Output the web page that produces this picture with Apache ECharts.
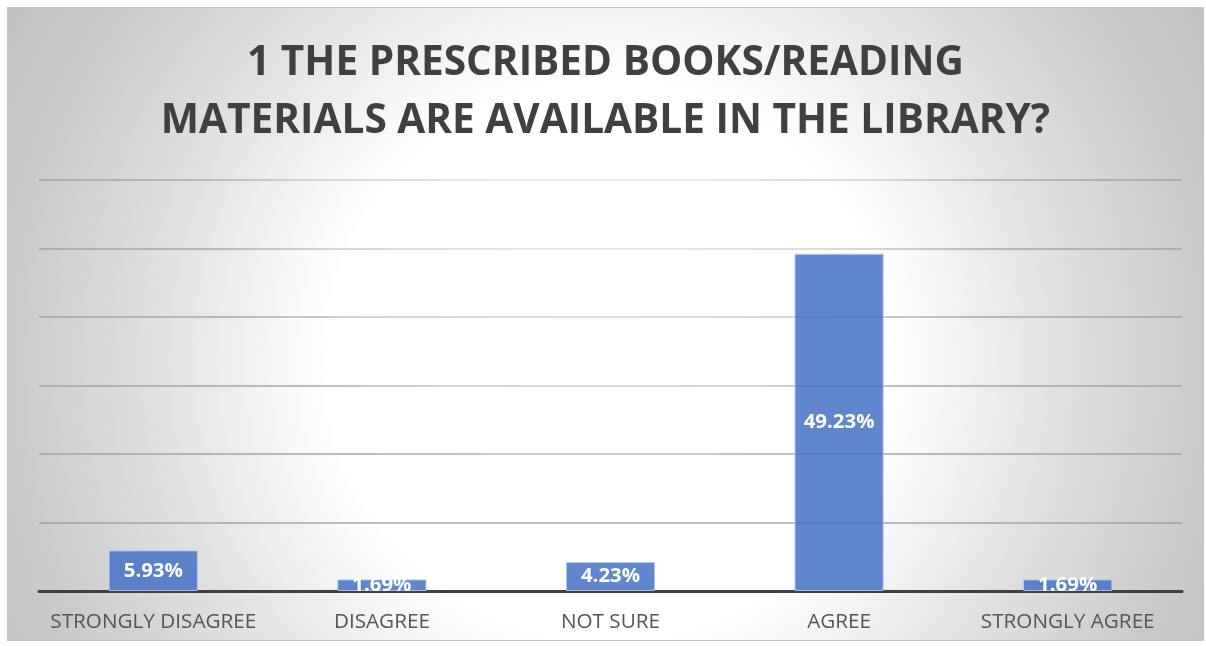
<!DOCTYPE html>
<html>
<head>
<meta charset="utf-8">
<script src="https://cdn.jsdelivr.net/npm/echarts@6/dist/echarts.min.js"></script>
<style>
html,body{margin:0;padding:0;background:#fff;width:1206px;height:646px;overflow:hidden;}
#c{position:absolute;left:7px;top:7px;width:1195px;height:632px;border:1px solid #c4c4c4;}
</style>
</head>
<body>
<div id="c"></div>
<script>
const titleLines = ["1 THE PRESCRIBED BOOKS/READING", "MATERIALS ARE AVAILABLE IN THE LIBRARY?"];
const categories = ["STRONGLY DISAGREE", "DISAGREE", "NOT SURE", "AGREE", "STRONGLY AGREE"];
const values = [5.93, 1.69, 4.23, 49.23, 1.69];
const axisMin = 0, axisMax = 60, axisInterval = 10;

const chart = echarts.init(document.getElementById('c'), null, {renderer: 'canvas'});
chart.setOption({
  animation: false,
  backgroundColor: {
    type: 'radial', x: 0.502, y: 0.557, r: 1.108,
    colorStops: [
      {offset: 0, color: '#ffffff'},
      {offset: 0.40, color: '#ffffff'},
      {offset: 0.50, color: '#f3f3f3'},
      {offset: 0.643, color: '#e1e1e1'},
      {offset: 0.857, color: '#cacaca'},
      {offset: 1, color: '#c0c0c0'}
    ]
  },
  title: {
    text: titleLines.join('\n'),
    left: 'center', top: 21,
    textStyle: {
      fontFamily: 'Open Sans', fontWeight: 'bold', fontSize: 40.6,
      color: '#404040', lineHeight: 58
    }
  },
  grid: {left: 31, right: 21, top: 172, bottom: 49, containLabel: false},
  xAxis: {
    type: 'category', data: categories,
    axisLine: {lineStyle: {color: '#404040', width: 3}},
    axisTick: {show: false},
    axisLabel: {fontFamily: 'Open Sans', fontSize: 20.7, color: '#555555', margin: 21, interval: 0}
  },
  yAxis: {
    type: 'value', min: axisMin, max: axisMax, interval: axisInterval,
    axisLabel: {show: false}, axisLine: {show: false}, axisTick: {show: false},
    splitLine: {lineStyle: {width: 1.5, color: {
      type: 'radial', global: true, x: 592, y: 92, r: 700,
      colorStops: [
        {offset: 0, color: '#f0f0f0'},
        {offset: 0.14, color: '#e6e6e6'},
        {offset: 0.43, color: '#c8c8c8'},
        {offset: 0.6, color: '#a8a8a8'},
        {offset: 1, color: '#a0a0a0'}
      ]
    }}}
  },
  series: [{
    type: 'bar', data: values, barWidth: '39%',
    itemStyle: {color: 'rgba(68,114,196,0.85)', borderColor: 'rgba(180,200,235,0.9)', borderWidth: 1},
    label: {
      show: true, position: 'inside', formatter: p => p.value.toFixed(2) + '%',
      fontFamily: 'Open Sans', fontWeight: 'bold', fontSize: 20.4, color: '#ffffff'
    }
  }]
});
</script>
</body>
</html>
